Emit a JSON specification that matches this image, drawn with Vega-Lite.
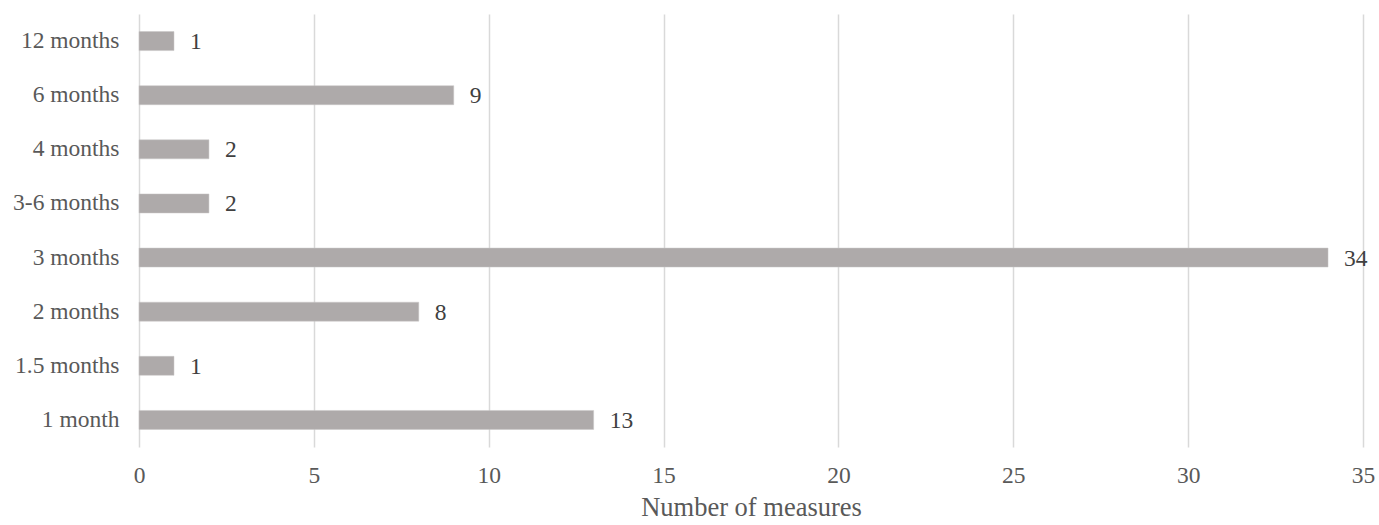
{
  "$schema": "https://vega.github.io/schema/vega-lite/v6.json",
  "autosize": {"type": "none"},
  "padding": {"left": 139, "top": 14, "right": 16, "bottom": 78},
  "width": 1224,
  "height": 433,
  "background": "white",
  "config": {
    "view": {"stroke": null},
    "font": "Liberation Serif"
  },
  "data": {
    "values": [
      {"period": "12 months", "count": 1},
      {"period": "6 months", "count": 9},
      {"period": "4 months", "count": 2},
      {"period": "3-6 months", "count": 2},
      {"period": "3 months", "count": 34},
      {"period": "2 months", "count": 8},
      {"period": "1.5 months", "count": 1},
      {"period": "1 month", "count": 13}
    ]
  },
  "encoding": {
    "y": {
      "field": "period",
      "type": "nominal",
      "sort": null,
      "scale": {"paddingInner": 0, "paddingOuter": 0},
      "axis": {
        "title": null,
        "domain": false,
        "ticks": false,
        "labelPadding": 20,
        "labelFont": "Liberation Serif",
        "labelFontSize": 23.5,
        "labelColor": "#595959",
        "grid": false
      }
    },
    "x": {
      "field": "count",
      "type": "quantitative",
      "scale": {"domain": [0, 35], "nice": false},
      "axis": {
        "values": [0, 5, 10, 15, 20, 25, 30, 35],
        "title": "Number of measures",
        "titleFont": "Liberation Serif",
        "titleFontSize": 26.5,
        "titleFontWeight": "normal",
        "titleColor": "#595959",
        "titlePadding": 8,
        "domain": false,
        "ticks": false,
        "labelFlush": false,
        "labelOverlap": false,
        "labelPadding": 16,
        "labelFont": "Liberation Serif",
        "labelFontSize": 23.5,
        "labelColor": "#595959",
        "grid": true,
        "gridColor": "#D9D9D9",
        "gridWidth": 1.5
      }
    }
  },
  "layer": [
    {
      "mark": {"type": "bar", "size": 19, "color": "#AEAAAA", "stroke": "#C9C6C6", "strokeWidth": 0.5}
    },
    {
      "mark": {"type": "text", "align": "left", "baseline": "middle", "dx": 16, "dy": 1, "fontSize": 23.5, "color": "#404040", "font": "Liberation Serif"},
      "encoding": {"text": {"field": "count", "type": "quantitative"}}
    }
  ]
}
